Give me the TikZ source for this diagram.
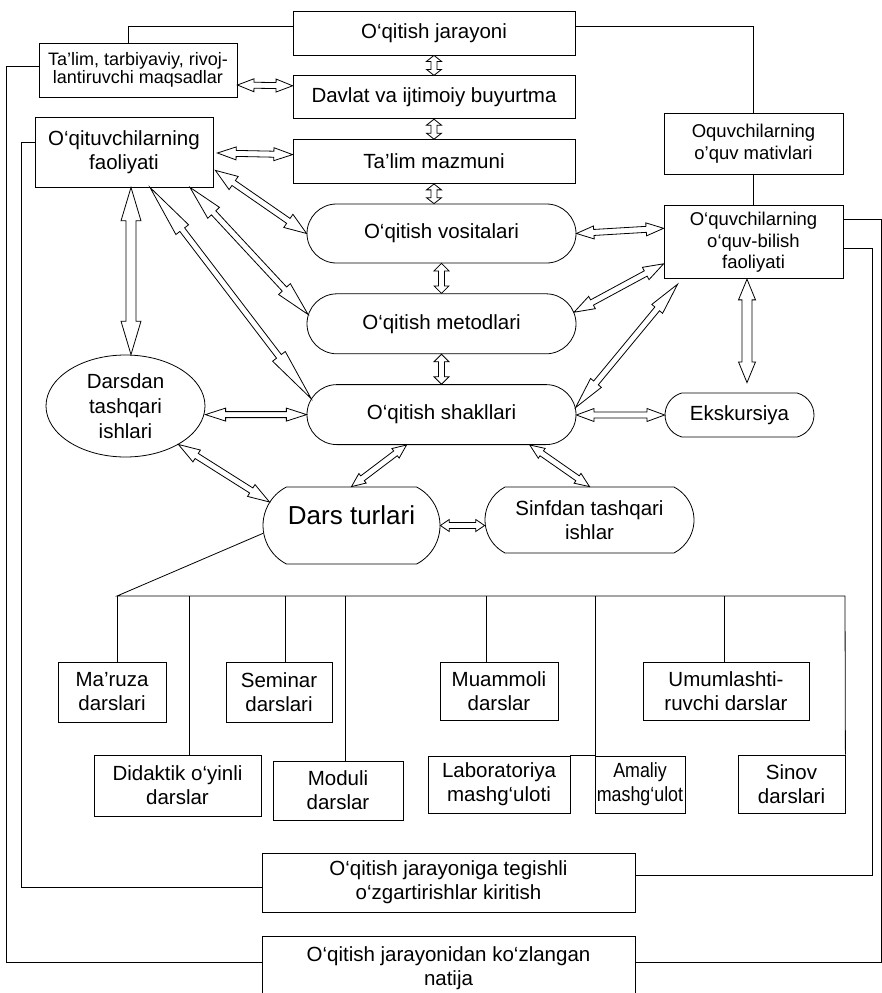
\documentclass[tikz,border=0pt]{standalone}
\usepackage{fontspec}
\setmainfont{Liberation Sans}
\usetikzlibrary{positioning,calc,shapes.geometric,shapes.misc}

\newcommand{\normsz}{\fontsize{20.5}{24}\selectfont}
\newcommand{\midsz}{\fontsize{18.5}{21.7}\selectfont}
\newcommand{\smallsz}{\fontsize{18}{18.5}\selectfont}
\newcommand{\bigsz}{\fontsize{26}{30}\selectfont}

% hollow two-headed block arrow: [head fraction]{end}{end}{head half width}{shaft half width}
\newcommand{\twoway}[5][.2]{%
  \path (#2) coordinate (ta) (#3) coordinate (tb);
  \draw[twoline] (tb)
    -- ($(tb)!#1!(ta)!#4!90:(tb)$)  -- ($(tb)!#1!(ta)!#5!90:(tb)$)
    -- ($(ta)!#1!(tb)!#5!-90:(ta)$) -- ($(ta)!#1!(tb)!#4!-90:(ta)$)
    -- (ta)
    -- ($(ta)!#1!(tb)!#4!90:(ta)$)  -- ($(ta)!#1!(tb)!#5!90:(ta)$)
    -- ($(tb)!#1!(ta)!#5!-90:(tb)$) -- ($(tb)!#1!(ta)!#4!-90:(tb)$)
    -- cycle;
}

\begin{document}
\begin{tikzpicture}[
  x=1pt, y=-1pt,
  line width=0.8pt,
  rbox/.style 2 args={draw, rectangle, align=center, font=\normsz,
                      minimum width=#1, minimum height=#2, inner sep=1pt},
  pill/.style 2 args={draw, rounded rectangle, align=center, font=\normsz,
                      minimum width=#1, minimum height=#2, inner sep=0pt},
  oval/.style={draw, ellipse, align=center, font=\fontsize{20.5}{25}\selectfont,
               minimum width=159pt, minimum height=102pt, inner sep=0pt},
  twoline/.style={draw, fill=white, line width=0.8pt, line join=miter},
]
\useasboundingbox (0,0) rectangle (882,993);
\clip (0,0) rectangle (882,993);

%% ─── Top column ──────────────────────────────────────────────────────────────
\node[rbox={282pt}{44pt}] (jar) at (434,33) {O‘qitish jarayoni};
\node[rbox={282pt}{43pt}, below=20pt of jar]    (davlat) {Davlat va ijtimoiy buyurtma};
\node[rbox={282pt}{44pt}, below=20pt of davlat] (mazmun) {Ta’lim mazmuni};

\node[rbox={198pt}{54pt}, font=\smallsz] (talim) at (138,70)
  {Ta’lim, tarbiyaviy, rivoj-\\lantiruvchi maqsadlar};
\node[rbox={178pt}{70pt}] (oqit) at (124,152) {O‘qituvchilarning\\faoliyati};

\node[rbox={179pt}{61pt}, font=\midsz] (motiv) at (753.5,143.5)
  {Oquvchilarning\\o’quv mativlari};
\node[rbox={179pt}{73pt}, font=\midsz, below=31pt of motiv] (bilish)
  {O‘quvchilarning\\o‘quv-bilish\\faoliyati};

%% ─── Middle (teaching means / methods / forms) ───────────────────────────────
\node[pill={269pt}{59pt}] (vosita) at (441.5,233.5) {O‘qitish vositalari};
\node[pill={269pt}{60pt}, below=30pt of vosita] (metod) {O‘qitish metodlari};
\node[pill={269pt}{60pt}, below=30pt of metod]  (shakl) {O‘qitish shakllari};

\node[oval] (darsdan) at (125.5,406) {Darsdan\\tashqari\\ishlari};
\node[pill={149pt}{44pt}, rounded rectangle arc length=150] (eks) at (739.5,415) {Ekskursiya};
\node[pill={177pt}{77pt}, rounded rectangle arc length=125, font=\bigsz, text depth=20pt]
  (turlari) at (351.5,525.5) {Dars turlari};
\node[pill={179pt}{66pt}, rounded rectangle arc length=125, inner xsep=-15pt] (sinfdan)
  at (589.5,520) {Sinfdan tashqari\\ishlar};

%% ─── Lesson types ────────────────────────────────────────────────────────────
\node[rbox={108pt}{60pt}] (maruza)   at (112,692)   {Ma’ruza\\darslari};
\node[rbox={106pt}{60pt}] (seminar)  at (279,692)   {Seminar\\darslari};
\node[rbox={118pt}{58pt}] (muammo)   at (499,691)   {Muammoli\\darslar};
\node[rbox={166pt}{58pt}] (umum)     at (726,691)   {Umumlashti-\\ruvchi darslar};
\node[rbox={167pt}{61pt}] (didaktik) at (177.5,785.5) {Didaktik o‘yinli\\darslar};
\node[rbox={130pt}{59pt}] (moduli)   at (338,790.5) {Moduli\\darslar};
\node[rbox={142pt}{57pt}] (lab)      at (499,784.5) {Laboratoriya\\mashg‘uloti};
\node[rbox={90pt}{57pt}, inner sep=0pt, font=\normsz\addfontfeature{FakeStretch=0.87}]
  (amaliy) at (640,784.5) {Amaliy\\mashg‘ulot};
\node[rbox={107pt}{58pt}] (sinov)    at (791.5,784) {Sinov\\darslari};

%% ─── Results ─────────────────────────────────────────────────────────────────
\node[rbox={373pt}{59pt}] (ozgart) at (448.5,882.5)
  {O‘qitish jarayoniga tegishli\\o‘zgartirishlar kiritish};
\node[rbox={373pt}{64pt}] (natija) at (448.5,968)
  {O‘qitish jarayonidan ko‘zlangan\\natija};

%% frame lines
\draw ($(jar.west)+(0,-7)$) -| ($(talim.north)+(-10,0)$);
\draw ($(jar.east)+(0,-7)$) -| (motiv.north);
\draw (motiv.south) -- (bilish.north);
\draw ($(talim.west)+(0,-4)$) -- ++(-32,0) |- ($(natija.west)+(0,-6)$);
\draw ($(oqit.west)+(0,-10)$) -- ++(-13,0) |- ($(ozgart.west)+(0,4.5)$);
\draw ($(bilish.east)+(0,-22.5)$) -- ++(38,0) |- ($(natija.east)+(0,-6)$);
\draw ($(bilish.east)+(0,6.5)$) -- ++(29,0) |- ($(ozgart.east)+(0,-7.5)$);

%% lesson tree
\coordinate (b-maruza) at (117,596);
\coordinate (b-sinov)  at (845,596);
\draw (turlari.185) -- (b-maruza) -- (b-sinov) -- (sinov.north east);
\draw (b-maruza) -- (b-maruza |- maruza.north);
\foreach \xx/\nd in {189/didaktik, 285/seminar, 345/moduli, 486/muammo, 724/umum} {
  \coordinate (b-\nd) at (\xx,596);
  \draw (b-\nd) -- (b-\nd |- \nd.north);
}
\coordinate (b-lab) at (595,596);
\draw (b-lab) |- (lab.north east);

%% two-way arrows
\twoway[.3]{jar.south}{davlat.north}{7.5pt}{3pt}
\twoway[.3]{davlat.south}{mazmun.north}{7.5pt}{3pt}
\twoway[.3]{mazmun.south}{mazmun.south |- vosita.north}{7.5pt}{3pt}
\twoway[.25]{vosita.south}{metod.north}{7.5pt}{3pt}
\twoway[.25]{metod.south}{shakl.north}{7.5pt}{3pt}

\twoway[.3]{$(talim.east)+(0,15)$}{$(davlat.west)+(0,-11.5)$}{6.5pt}{3pt}
\twoway[.25]{$(oqit.east)+(4,1)$}{$(mazmun.west)+(0,-7)$}{6.5pt}{3pt}
\twoway{vosita.east}{$(bilish.west)+(0,-14)$}{6.5pt}{3pt}
\twoway{metod.5}{$(bilish.west)+(0,21.5)$}{7pt}{3pt}
\twoway{shakl.3}{$(bilish.south west)+(14,5)$}{7pt}{3pt}
\twoway{shakl.east |- eks.west}{eks.west}{6.5pt}{3pt}
\twoway{$(bilish.south)+(-6.5,0)$}{$(eks.north)+(7.5,-10)$}{8.5pt}{5pt}

\twoway{$(oqit.south)+(7,0)$}{$(darsdan.north)+(5.5,0)$}{10pt}{5pt}
\twoway{$(oqit.south)+(26,0)$}{shakl.173}{8pt}{3pt}
\twoway{$(oqit.south)+(66,0)$}{metod.176}{8pt}{3pt}
\twoway{$(oqit.south east)+(2,-17)$}{vosita.west}{8pt}{3pt}
\twoway{darsdan.east |- shakl.west}{shakl.west}{6.5pt}{3pt}

\twoway{darsdan.-36}{turlari.164}{7pt}{3pt}
\twoway{shakl.-139}{turlari.north}{6pt}{3pt}
\twoway{shakl.-19}{sinfdan.north}{6pt}{3pt}
\twoway{turlari.east}{sinfdan.west |- turlari.east}{6pt}{3pt}

\end{tikzpicture}
\end{document}
